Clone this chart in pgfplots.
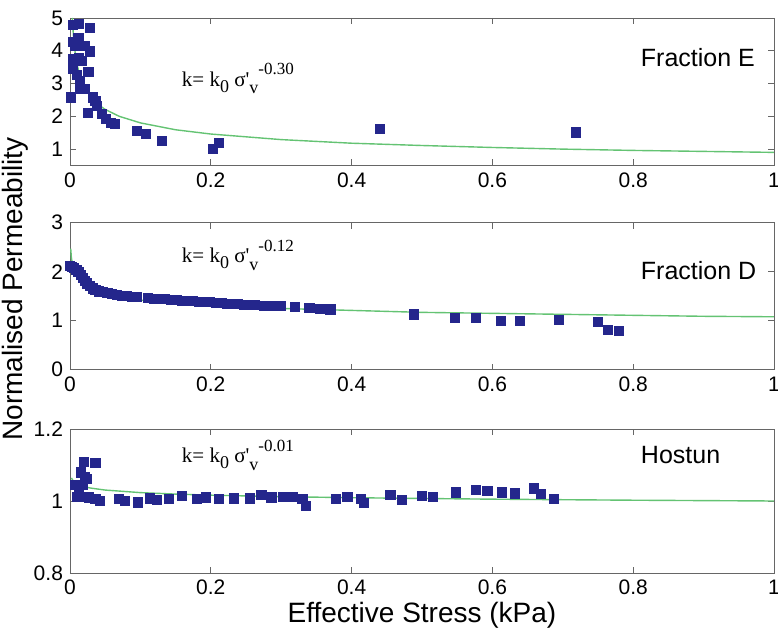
\documentclass[border=0pt]{standalone}
\usepackage{fontspec}
\setmainfont{Liberation Sans}
\newfontfamily\timesf{Liberation Serif}
\usepackage{pgfplots}
\pgfplotsset{compat=1.18}
\definecolor{navy}{RGB}{36,38,140}
\definecolor{fitgreen}{RGB}{100,195,115}
\pgfplotsset{
  panel/.style={
    scale only axis, width=352pt, height=73.5pt,
    xmin=0, xmax=1,
    xtick={0,0.2,0.4,0.6,0.8,1},
    xticklabels={0,0.2,0.4,0.6,0.8,1},
    tick align=inside, major tick length=3pt,
    axis line style={black!60},
    every tick/.style={black!60},
    tick label style={font=\fontsize{10.5}{12}\selectfont},
    anchor=south west,
  },
  pts/.style={only marks, mark=square*, mark size=2.3pt, mark options={fill=navy, draw=navy}},
  fit/.style={no marks, color=fitgreen, line width=0.7pt},
}
\newcommand{\formula}[1]{{\timesf\fontsize{10.5}{12}\selectfont k= k\raisebox{-0.6ex}{\fontsize{9}{10}\selectfont 0} σ'\raisebox{-0.75ex}{\fontsize{9}{10}\selectfont v}\raisebox{1.2ex}{\fontsize{8.5}{10}\selectfont #1}}}
\begin{document}
\begin{tikzpicture}
\path[use as bounding box] (-35pt,-27.5pt) rectangle (354pt,286.5pt);
% Panel 1: Fraction E
\begin{axis}[panel, at={(0pt,203.75pt)}, ymin=0.5, ymax=5, ytick={1,2,3,4,5}, yticklabels={1,2,3,4,5}, height=73.75pt]
\addplot[fit] coordinates {(0.0033,5.0) (0.005,4.41) (0.0075,3.91) (0.01,3.58) (0.015,3.17) (0.02,2.91) (0.03,2.58) (0.04,2.36) (0.05,2.21) (0.07,2.00) (0.1,1.80) (0.15,1.59) (0.2,1.46) (0.3,1.29) (0.4,1.18) (0.5,1.11) (0.6,1.05) (0.7,1.00) (0.8,0.96) (0.9,0.93) (1.0,0.90)};
\addplot[pts] coordinates {(0.001,2.58) (0.004,4.79) (0.013,4.82) (0.028,4.69) (0.004,4.28) (0.012,4.39) (0.007,4.16) (0.021,4.14) (0.028,3.98) (0.004,3.75) (0.013,3.77) (0.017,3.70) (0.004,3.45) (0.026,3.36) (0.010,3.26) (0.014,3.09) (0.014,2.83) (0.021,2.83) (0.032,2.58) (0.036,2.48) (0.038,2.32) (0.025,2.10) (0.045,2.07) (0.051,1.92) (0.058,1.80) (0.064,1.76) (0.095,1.56) (0.108,1.46) (0.131,1.25) (0.203,1.00) (0.211,1.20) (0.440,1.61) (0.719,1.51)};
\node[anchor=base west] at (axis cs:0.149,2.91) {\formula{-0.30}};
\node[anchor=west, font=\fontsize{12.5}{14}\selectfont] at (axis cs:0.801,3.78) {Fraction E};
\end{axis}
% Panel 2: Fraction D
\begin{axis}[panel, at={(0pt,101.65pt)}, ymin=0, ymax=3, ytick={0,1,2,3}, yticklabels={0,1,2,3}]
\addplot[fit] coordinates {(0.001,2.47) (0.002,2.28) (0.005,2.04) (0.01,1.88) (0.02,1.73) (0.03,1.64) (0.05,1.55) (0.075,1.47) (0.1,1.42) (0.15,1.36) (0.2,1.31) (0.3,1.25) (0.4,1.21) (0.5,1.17) (0.6,1.15) (0.7,1.13) (0.8,1.11) (0.9,1.09) (1.0,1.08)};
\addplot[pts] coordinates {(0.000,2.12) (0.003,2.10) (0.006,2.07) (0.009,2.03) (0.012,1.99) (0.015,1.93) (0.018,1.87) (0.021,1.81) (0.024,1.76) (0.028,1.71) (0.032,1.66) (0.036,1.63) (0.041,1.60) (0.047,1.58) (0.053,1.56) (0.060,1.54) (0.067,1.52) (0.074,1.51) (0.081,1.50) (0.088,1.49) (0.095,1.48) (0.111,1.46) (0.119,1.45) (0.127,1.44) (0.135,1.44) (0.143,1.43) (0.151,1.42) (0.159,1.41) (0.167,1.40) (0.175,1.40) (0.183,1.39) (0.191,1.38) (0.199,1.38) (0.207,1.37) (0.215,1.36) (0.223,1.35) (0.231,1.35) (0.239,1.34) (0.247,1.33) (0.255,1.33) (0.263,1.32) (0.275,1.31) (0.287,1.30) (0.300,1.30) (0.320,1.28) (0.340,1.26) (0.355,1.24) (0.370,1.23) (0.489,1.13) (0.547,1.06) (0.577,1.06) (0.612,1.00) (0.639,1.00) (0.695,1.01) (0.750,0.97) (0.764,0.82) (0.780,0.80)};
\node[anchor=base west] at (axis cs:0.149,2.18) {\formula{-0.12}};
\node[anchor=west, font=\fontsize{12.5}{14}\selectfont] at (axis cs:0.801,2.02) {Fraction D};
\end{axis}
% Panel 3: Hostun
\begin{axis}[panel, at={(0pt,0pt)}, height=72pt, ymin=0.8, ymax=1.2, ytick={0.8,1,1.2}, yticklabels={0.8,1,1.2},
  xlabel={Effective Stress (kPa)}, xlabel style={font=\fontsize{14}{16}\selectfont, yshift=3pt}]
\addplot[fit] coordinates {(0.002,1.0641) (0.005,1.0544) (0.01,1.0471) (0.02,1.0399) (0.03,1.0357) (0.05,1.0304) (0.1,1.0233) (0.15,1.0192) (0.2,1.0162) (0.3,1.0121) (0.4,1.0092) (0.5,1.0070) (0.6,1.0051) (0.7,1.0036) (0.8,1.0022) (0.9,1.0011) (1.0,1.0)};
\addplot[pts] coordinates {(0.007,1.044) (0.015,1.077) (0.021,1.066) (0.018,1.044) (0.013,1.017) (0.020,1.109) (0.036,1.105) (0.016,1.081) (0.024,1.061) (0.010,1.012) (0.015,1.012) (0.027,1.010) (0.036,1.005) (0.043,1.000) (0.070,1.005) (0.078,1.000) (0.096,0.996) (0.113,1.007) (0.123,1.003) (0.141,1.005) (0.159,1.015) (0.180,1.005) (0.193,1.010) (0.212,1.005) (0.233,1.007) (0.256,1.007) (0.272,1.017) (0.286,1.010) (0.302,1.012) (0.316,1.012) (0.330,1.005) (0.335,0.987) (0.378,1.005) (0.394,1.012) (0.413,1.005) (0.418,0.994) (0.455,1.017) (0.471,1.003) (0.500,1.014) (0.515,1.012) (0.548,1.024) (0.576,1.030) (0.593,1.028) (0.614,1.024) (0.632,1.021) (0.659,1.035) (0.669,1.019) (0.687,1.005)};
\node[anchor=base west] at (axis cs:0.149,1.106) {\formula{-0.01}};
\node[anchor=west, font=\fontsize{12.5}{14}\selectfont] at (axis cs:0.801,1.128) {Hostun};
\end{axis}
\node[rotate=90, font=\fontsize{14}{16}\selectfont] at (-27.5pt,142pt) {Normalised Permeability};
\end{tikzpicture}
\end{document}
